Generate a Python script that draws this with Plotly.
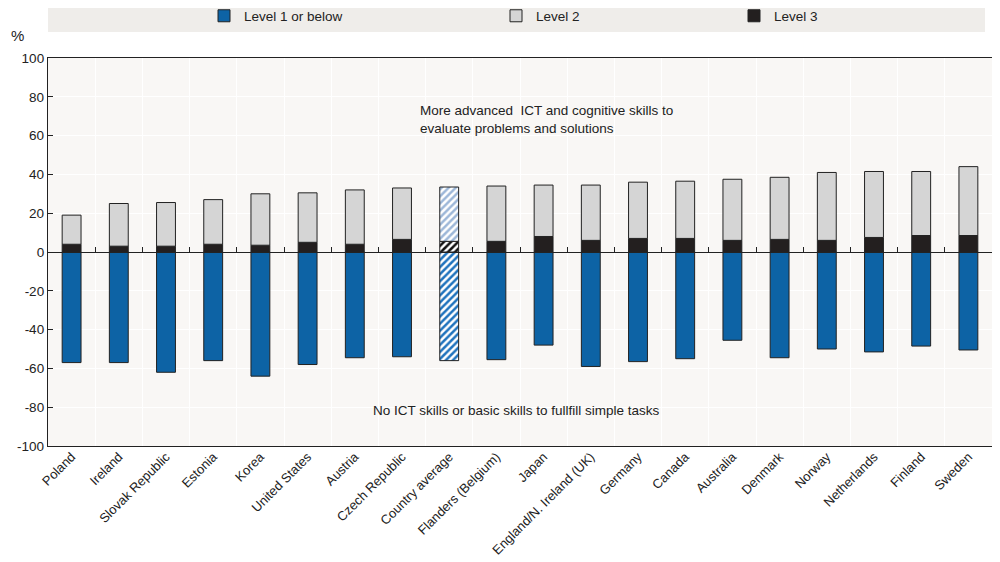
import plotly.graph_objects as go

countries = ["Poland", "Ireland", "Slovak Republic", "Estonia", "Korea", "United States",
             "Austria", "Czech Republic", "Country average", "Flanders (Belgium)", "Japan",
             "England/N. Ireland (UK)", "Germany", "Canada", "Australia", "Denmark",
             "Norway", "Netherlands", "Finland", "Sweden"]
level1 = [-57, -57, -62, -56, -64, -58, -54.5, -54, -56, -55.5, -48, -59, -56.5, -55,
          -45.5, -54.5, -50, -51.5, -48.5, -50.5]
level2 = [15, 22, 22.5, 23, 26.5, 25.5, 28, 26.5, 28, 28.5, 26.5, 28.5, 29, 29.5,
          31.5, 32, 35, 34, 33, 35.5]
level3 = [4, 3, 3, 4, 3.5, 5, 4, 6.5, 5.5, 5.5, 8, 6, 7, 7, 6, 6.5, 6, 7.5, 8.5, 8.5]
ytick_vals = [-100, -80, -60, -40, -20, 0, 20, 40, 60, 80, 100]
ytick_text = ["-100", "-80", "-60", "-40", "-20", "0", "20", "40", "60", "80", "100"]

AVG = "Country average"
FONT = "Liberation Sans, Arial, sans-serif"
FS = 13.5
BLUE = "#0d63a5"
GREY = "#d5d5d5"
DARK = "#231f1f"
LINE = dict(color="#222222", width=1)

def main_part(vals):
    return [None if c == AVG else v for c, v in zip(countries, vals)]

def avg_part(vals):
    return [v if c == AVG else None for c, v in zip(countries, vals)]

fig = go.Figure()
series = [("Level 1 or below", level1, BLUE, "#1f73bd", "legend"),
          ("Level 3", level3, DARK, "#111111", "legend3"),
          ("Level 2", level2, GREY, "#9db7d8", "legend2")]
for name, vals, col, _, lg in series:
    fig.add_trace(go.Bar(x=countries, y=main_part(vals), name=name, width=0.4,
                         marker=dict(color=col, line=LINE), legend=lg))
for name, vals, col, fg, lg in series:
    fig.add_trace(go.Bar(x=countries, y=avg_part(vals), name=name, width=0.4, showlegend=False,
                         marker=dict(color="white", line=LINE,
                                     pattern=dict(shape="/", fgcolor=fg, bgcolor="white",
                                                  fgopacity=1, size=5, solidity=0.5,
                                                  fillmode="replace"))))
# helper axis for zero line ticks and vertical grid
fig.add_trace(go.Scatter(x=[None], y=[None], xaxis="x2", showlegend=False, hoverinfo="skip"))

n = len(countries)
bounds = [i + 0.5 for i in range(n - 1)]

W, H = 992, 554  # page has an 8px body offset
legend_common = dict(orientation="h", yref="container", y=1 - 8 / H, yanchor="middle",
                     xref="container", xanchor="left", bgcolor="rgba(0,0,0,0)",
                     font=dict(family=FONT, size=FS, color="#222"))

fig.update_layout(
    width=W, height=H,
    margin=dict(l=40, r=8, t=50, b=116, autoexpand=False),
    paper_bgcolor="white",
    plot_bgcolor="#f9f7f5",
    barmode="relative",
    font=dict(family=FONT, size=FS, color="#222222"),
    legend=dict(x=196 / W, **legend_common),
    legend2=dict(x=488 / W, **legend_common),
    legend3=dict(x=726 / W, **legend_common),
    xaxis=dict(range=[-0.5, n - 0.5], tickangle=-45, ticks="", showline=True, mirror=True,
               linecolor="#222222", linewidth=1.3, showgrid=False, automargin=False,
               ticklabelstandoff=-3,
               tickfont=dict(family=FONT, size=13, color="#222")),
    xaxis2=dict(overlaying="x", anchor="free", position=0.5, range=[-0.5, n - 0.5],
                tickmode="array", tickvals=bounds, showticklabels=False, ticks="inside",
                ticklen=5, tickcolor="#222222", showline=True, linecolor="#222222",
                linewidth=1.3, showgrid=True, gridcolor="white", gridwidth=1, zeroline=False,
                automargin=False),
    yaxis=dict(range=[-100, 100], tickmode="array", tickvals=ytick_vals, ticktext=ytick_text,
               ticks="inside", ticklen=5, tickcolor="#222222", showline=True, mirror=True,
               linecolor="#222222", linewidth=1.3, gridcolor="white", gridwidth=1,
               zeroline=False, automargin=False, tickfont=dict(family=FONT, size=FS, color="#222")),
    shapes=[dict(type="rect", xref="paper", yref="paper", x0=0, x1=0.9926, y0=1.067, y1=1.149,
                 fillcolor="#efedea", line=dict(width=0), layer="below")],
    annotations=[
        dict(text="%", xref="paper", yref="paper", x=-0.032, y=1.059, xanchor="center",
             yanchor="middle", showarrow=False, font=dict(family=FONT, size=15, color="#222")),
        dict(text="More advanced  ICT and cognitive skills to<br>evaluate problems and solutions",
             xref="paper", yref="y", x=0.392, y=68.3, xanchor="left", yanchor="middle",
             align="left", showarrow=False, font=dict(family=FONT, size=FS, color="#222")),
        dict(text="No ICT skills or basic skills to fullfill simple tasks",
             xref="paper", yref="y", x=0.342, y=-81.5, xanchor="left", yanchor="middle",
             showarrow=False, font=dict(family=FONT, size=FS, color="#222")),
    ],
)

fig.write_html("out.html")
